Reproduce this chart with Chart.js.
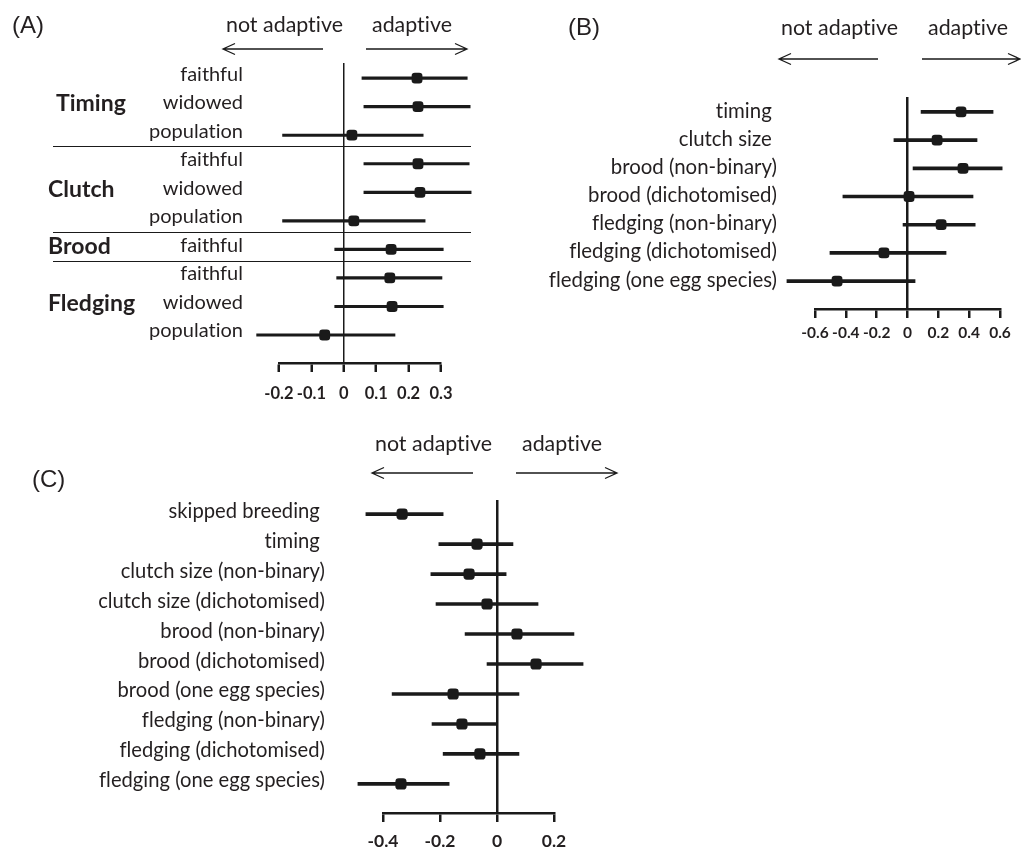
<!DOCTYPE html>
<html><head><meta charset="utf-8">
<script src="https://cdn.jsdelivr.net/npm/chart.js@4.4.1/dist/chart.umd.min.js"></script>
<style>
html,body{margin:0;padding:0;background:#fff;}
body{width:1021px;height:849px;position:relative;overflow:hidden;}
canvas{position:absolute;}
#ov{position:absolute;left:0;top:0;pointer-events:none;}
#ov text{fill:#231f20;font-variant-ligatures:none;}
.t{font-family:Lato,sans-serif;font-size:21.4px;}
.p{font-family:'Liberation Sans',Arial,sans-serif;font-size:24px;}
</style></head><body>
<canvas id="cA" width="510" height="420" style="left:0;top:0"></canvas>
<canvas id="cB" width="501" height="360" style="left:520px;top:0"></canvas>
<canvas id="cC" width="640" height="429" style="left:0;top:420px"></canvas>
<svg id="ov" width="1021" height="849" xmlns="http://www.w3.org/2000/svg">
  <g stroke="#1a1a1a" stroke-width="1.3" fill="none">
    <path d="M223 49H323M235 43.5L223 49L235 54.5"/>
    <path d="M366 49H467M455 43.5L467 49L455 54.5"/>
    <path d="M779 59H878M791 53.5L779 59L791 64.5"/>
    <path d="M922 59H1020M1008 53.5L1020 59L1008 64.5"/>
    <path d="M372 473H473M384 467.5L372 473L384 478.5"/>
    <path d="M516 473H617M605 467.5L617 473L605 478.5"/>
  </g>
  <text class="p" x="12" y="33">(A)</text>
  <text class="t" x="226" y="32">not adaptive</text>
  <text class="t" x="372" y="32">adaptive</text>
  <text class="p" x="568" y="35">(B)</text>
  <text class="t" x="781" y="35">not adaptive</text>
  <text class="t" x="928" y="35">adaptive</text>
  <text class="p" x="32" y="487">(C)</text>
  <text class="t" x="375" y="451">not adaptive</text>
  <text class="t" x="522" y="451">adaptive</text>
</svg>
<script>
// ---------- data ----------
const labelsA = ['faithful','widowed','population','faithful','widowed','population','faithful','faithful','widowed','population'];
const estA  = [0.226, 0.229, 0.025, 0.229, 0.235, 0.031, 0.146, 0.142, 0.149, -0.059];
const lowA  = [0.056, 0.062, -0.189, 0.062, 0.062, -0.189, -0.028, -0.022, -0.028, -0.269];
const highA = [0.381, 0.390, 0.245, 0.387, 0.393, 0.251, 0.307, 0.303, 0.307, 0.158];
const groupsA = [['Timing',0,2],['Clutch',3,5],['Brood',6,6],['Fledging',7,9]];
const ticksA = [-0.2, -0.1, 0, 0.1, 0.2, 0.3];

const labelsB = ['timing ','clutch size ','brood (non-binary)','brood (dichotomised)','fledging (non-binary)','fledging (dichotomised)','fledging (one egg species)'];
const estB  = [0.347, 0.192, 0.360, 0.010, 0.218, -0.153, -0.457];
const lowB  = [0.088, -0.088, 0.036, -0.419, -0.029, -0.503, -0.782];
const highB = [0.555, 0.451, 0.614, 0.425, 0.439, 0.250, 0.049];
const ticksB = [-0.6, -0.4, -0.2, 0, 0.2, 0.4, 0.6];

const labelsC = ['skipped breeding ','timing ','clutch size (non-binary)','clutch size (dichotomised)','brood (non-binary)','brood (dichotomised)','brood (one egg species)','fledging (non-binary)','fledging (dichotomised)','fledging (one egg species)'];
const estC  = [-0.333, -0.070, -0.098, -0.035, 0.070, 0.137, -0.154, -0.123, -0.060, -0.337];
const lowC  = [-0.460, -0.204, -0.232, -0.214, -0.112, -0.035, -0.368, -0.228, -0.189, -0.488];
const highC = [-0.189, 0.056, 0.032, 0.144, 0.270, 0.302, 0.077, -0.004, 0.077, -0.168];
const ticksC = [-0.4, -0.2, 0, 0.2];

// ---------- drawing ----------
const INK = '#1a1a1a', TXT = '#231f20';

const noLigatures = {
  id: 'noLig',
  beforeDraw(chart) { try { chart.ctx.textRendering = 'optimizeLegibility'; chart.ctx.letterSpacing = '0.01px'; } catch (e) {} }
};

const groupPlugin = {
  id: 'groupsA',
  beforeDatasetsDraw(chart) {
    const ctx = chart.ctx, y = chart.scales.y;
    ctx.save();
    ctx.strokeStyle = INK; ctx.lineWidth = 1.2;
    groupsA.forEach((g, k) => {
      if (k === 0) return;
      const py = Math.round((y.getPixelForValue(g[1] - 1) + y.getPixelForValue(g[1])) / 2 - 3) + 0.5;
      ctx.beginPath(); ctx.moveTo(53, py); ctx.lineTo(471, py); ctx.stroke();
    });
    ctx.fillStyle = TXT; ctx.font = 'bold 23px Lato'; ctx.textBaseline = 'middle'; ctx.textAlign = 'left';
    groupsA.forEach((g, k) => {
      const py = (y.getPixelForValue(g[1]) + y.getPixelForValue(g[2])) / 2 - 3;
      ctx.fillText(g[0], k === 0 ? 56 : 48, py);
    });
    ctx.restore();
  }
};

function forest(id, p) {
  return new Chart(document.getElementById(id), {
    type: 'scatter',
    data: { datasets: [
      { type: 'scatter', data: p.est.map((v, i) => ({x: v, y: i})), pointStyle: 'rectRounded',
        pointRadius: p.mk, pointHoverRadius: p.mk, backgroundColor: INK, borderWidth: 0, clip: false, order: 1 },
      { type: 'bar', indexAxis: 'y', data: p.low.map((v, i) => ({x: [v, p.high[i]], y: i})),
        barThickness: p.lw, backgroundColor: INK, borderWidth: 0, clip: false, order: 2 }
    ]},
    options: {
      responsive: false, animation: false, events: [],
      layout: {padding: {left: 0, top: p.top, right: p.right, bottom: 0}},
      plugins: {legend: {display: false}, tooltip: {enabled: false}},
      scales: {
        x: { type: 'linear', bounds: 'data', min: p.ticks[0], max: p.ticks[p.ticks.length - 1], offset: false,
          afterBuildTicks: s => { s.ticks = p.ticks.map(v => ({value: v})); },
          afterFit: s => { s.height = p.xh; s.paddingLeft = 0; s.paddingRight = 0; },
          ticks: {autoSkip: false, maxRotation: 0, padding: p.tpad, color: TXT,
            font: {family: 'Lato', weight: 'bold', size: p.tfs}, callback: v => String(v)},
          grid: {offset: false, drawOnChartArea: true,
            color: c => (c.tick && c.tick.value === 0) ? INK : 'rgba(0,0,0,0)',
            lineWidth: p.zw, drawTicks: true, tickLength: 9, tickWidth: 2.5, tickColor: INK},
          border: {display: true, color: INK, width: 2.5}
        },
        y: { type: 'linear', bounds: 'data', reverse: true, min: p.ymin, max: p.ymax, offset: false,
          afterBuildTicks: s => { s.ticks = p.labels.map((_, i) => ({value: i})); },
          afterFit: s => { s.width = p.yw; s.paddingTop = 0; s.paddingBottom = 0; },
          ticks: {autoSkip: false, padding: p.lpad, labelOffset: p.loff, color: TXT,
            font: {family: 'Lato', size: p.lfs}, callback: v => p.labels[v]},
          grid: {display: false, drawTicks: false, offset: false}, border: {display: false}
        }
      }
    },
    plugins: [noLigatures].concat(p.plugins || [])
  });
}

forest('cA', {labels: labelsA, est: estA, low: lowA, high: highA, ticks: ticksA,
  top: 63, right: 69, yw: 279, xh: 57, ymin: -0.53, ymax: 9.98,
  mk: 6.3, lw: 2.5, zw: 1.5, tfs: 16.5, tpad: 12, lfs: 20, lpad: 36, loff: -4, plugins: [groupPlugin]});
forest('cB', {labels: labelsB, est: estB, low: lowB, high: highB, ticks: ticksB,
  top: 97, right: 21, yw: 295, xh: 51, ymin: -0.53, ymax: 6.99,
  mk: 6.3, lw: 3, zw: 2.5, tfs: 15.5, tpad: 6, lfs: 20.4, lpad: 38, loff: -1});
forest('cC', {labels: labelsC, est: estC, low: lowC, high: highC, ticks: ticksC,
  top: 80, right: 86, yw: 383, xh: 36, ymin: -0.47, ymax: 9.97,
  mk: 6.5, lw: 3, zw: 2.5, tfs: 17.5, tpad: 9, lfs: 20.2, lpad: 58, loff: -3});
</script>
</body></html>
